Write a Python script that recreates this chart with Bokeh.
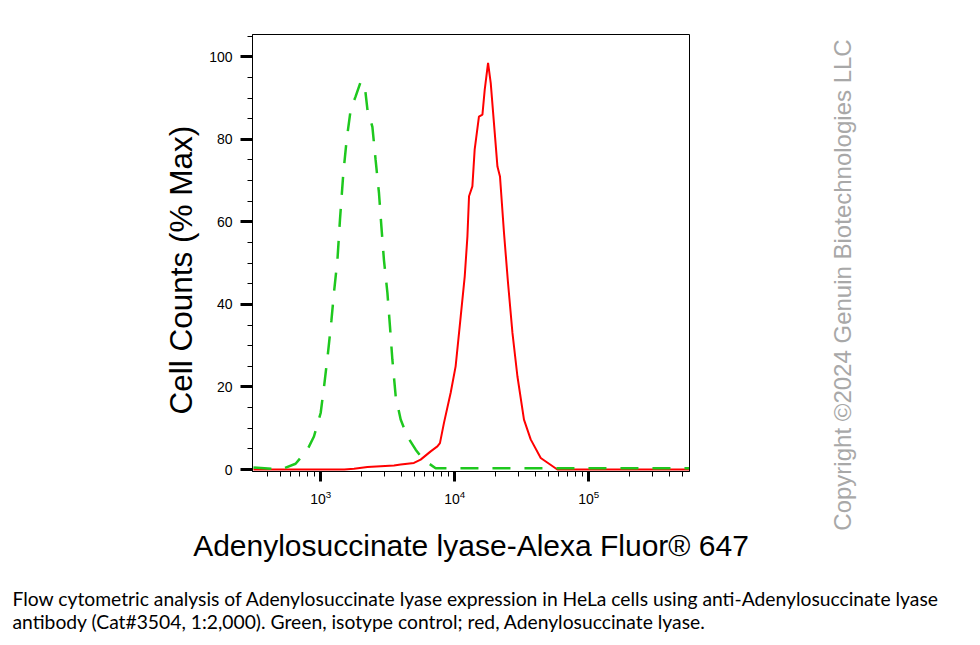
import math
from bokeh.plotting import figure
from bokeh.models import (Range1d, FixedTicker, SingleIntervalTicker, LogTickFormatter,
                          Title, LinearAxis)
from bokeh.embed import file_html
from bokeh.resources import INLINE

# ---- data (fluorescence intensity, % of max) ----
green_x = [315, 502, 650, 796, 891, 1000, 1059, 1132, 1202, 1256, 1334, 1393, 1476, 1563,
           1675, 1824, 1991, 2128, 2234, 2432, 2570, 2723, 2838, 2965, 3148, 3289, 3428,
           3631, 3954, 4436, 5117, 5834, 7211, 560000]
green_y = [0.5, 0.0, 1.4, 4.8, 8.0, 13.7, 20.0, 28.0, 36.0, 42.8, 50.8, 60.5, 71.8, 79.9,
           87.2, 90.4, 94.0, 93.2, 87.2, 83.0, 75.0, 67.0, 58.9, 50.8, 42.8, 34.7, 26.6,
           17.7, 12.1, 8.0, 4.8, 2.4, 0.3, 0.3]

red_x = [315, 1500, 1775, 2234, 3524, 3954, 4966, 5572, 6622, 7430, 7762, 8318, 9333,
         10162, 11092, 11885, 12445, 12794, 13552, 14093, 15171, 16106, 16749, 17742,
         18578, 19907, 20845, 21777, 23335, 25003, 26977, 29376, 32885, 36898, 43853,
         58345, 560000]
red_y = [0.0, 0.0, 0.2, 0.6, 1.0, 1.2, 1.6, 2.4, 4.4, 5.6, 6.4, 11.3, 18.6, 25.0, 37.1,
         46.8, 56.5, 66.2, 68.6, 77.5, 85.5, 86.0, 92.0, 98.5, 93.6, 81.5, 73.4, 71.0,
         57.3, 45.2, 33.1, 22.6, 12.1, 7.3, 2.8, 0.0, 0.0]

x_major_ticks = [1e3, 1e4, 1e5]
x_minor_ticks = [m * 10 ** e for e in (2, 3, 4, 5) for m in range(2, 10)]

x_title = "Adenylosuccinate lyase-Alexa Fluor® 647"
y_title = "Cell Counts (% Max)"
copyright_text = "Copyright ©2024 Genuin Biotechnologies LLC"
caption1 = "Flow cytometric analysis of Adenylosuccinate lyase expression in HeLa cells using anti-Adenylosuccinate lyase"
caption2 = "antibody (Cat#3504, 1:2,000). Green, isotype control; red, Adenylosuccinate lyase."

# ---- layout (canvas px) ----
FL, FT, FW, FH = 252, 34, 437, 437
W, H = 964, 640

p = figure(width=W, height=H, frame_width=FW, frame_height=FH,
           x_axis_type="log", output_backend="svg", toolbar_location=None,
           x_range=Range1d(310, 565000), y_range=Range1d(-0.48, 105.4),
           min_border_left=FL, min_border_top=FT,
           min_border_right=W - FL - FW, min_border_bottom=H - FT - FH)
p.grid.visible = False
p.outline_line_color = "black"
p.outline_line_width = 1
p.background_fill_color = "white"
p.border_fill_color = "white"

p.line(red_x, red_y, line_color="#ff0000", line_width=2)
p.line(green_x, green_y, line_color="#1ec81e", line_width=2.5, line_dash="18 14")

# axes
xa = p.xaxis[0]
xa.ticker = FixedTicker(ticks=x_major_ticks, minor_ticks=x_minor_ticks)
xa.formatter = LogTickFormatter()
ya = p.yaxis[0]
ya.ticker = SingleIntervalTicker(interval=20, num_minor_ticks=4)
for ax in (xa, ya):
    ax.axis_line_color = "black"
    ax.major_tick_line_color = "black"
    ax.minor_tick_line_color = "black"
    ax.major_tick_in = 0
    ax.minor_tick_in = 0
    ax.minor_tick_out = 5
    ax.major_tick_line_width = 3
    ax.minor_tick_line_width = 1
    ax.major_label_text_font = "Liberation Sans"
    ax.major_label_text_color = "black"
    ax.axis_label_text_font = "Liberation Sans"
    ax.axis_label_text_font_style = "normal"
    ax.axis_label_text_color = "black"
    ax.axis_label_text_font_size = "30px"
ya.major_tick_out = 12
ya.major_label_standoff = 8
ya.major_label_text_font_size = "14px"
xa.major_tick_out = 10
xa.major_label_standoff = 8
xa.major_label_text_font_size = "14px"
xa.axis_label = x_title
xa.axis_label_standoff = 22

# y title (starts a little above the frame bottom, as in the original)
p.add_layout(Title(text=y_title, align="left", offset=57, standoff=15,
                   text_font="Liberation Sans", text_font_size="31.5px",
                   text_font_style="normal", text_color="black"), "left")

# copyright as a bare right-hand axis with a single rotated label
ca = LinearAxis(ticker=FixedTicker(ticks=[4], minor_ticks=[]),
                major_label_overrides={4: copyright_text},
                major_label_orientation=math.pi / 2,
                major_label_standoff=147,
                major_label_text_font="Liberation Sans",
                major_label_text_font_size="24px",
                major_label_text_color="#a8a8a8",
                axis_line_color=None, major_tick_line_color=None,
                minor_tick_line_color=None)
p.add_layout(ca, "right")

# caption below the chart
p.add_layout(Title(text=caption1 + "\n" + caption2, align="left", offset=-240,
                   text_font="Lato", text_font_size="19.3px", text_font_style="normal",
                   text_color="black", text_line_height=1.0, standoff=40), "below")

open("out.html", "w").write(file_html(p, INLINE))
